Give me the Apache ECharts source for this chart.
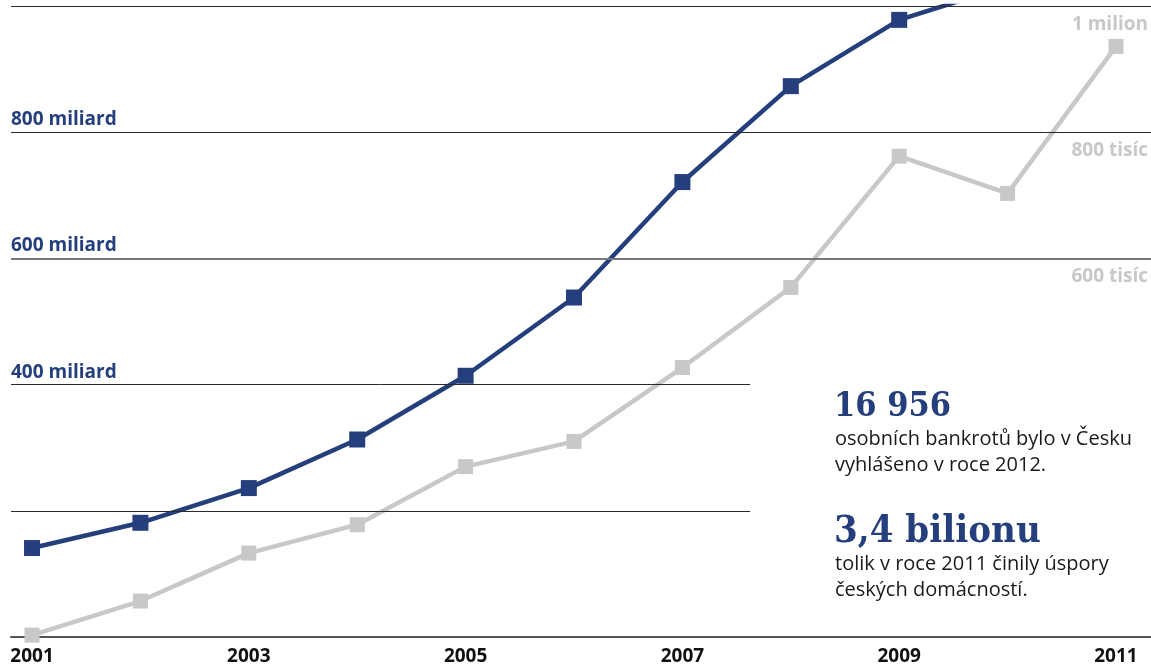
<!DOCTYPE html>
<html>
<head>
<meta charset="utf-8">
<script src="https://cdn.jsdelivr.net/npm/echarts@6/dist/echarts.min.js"></script>
<style>
  html, body { margin: 0; padding: 0; background: #fff; }
  #main { width: 1151px; height: 666px; }
</style>
</head>
<body>
<div id="main"></div>
<script>
// roky
var years = [2001, 2002, 2003, 2004, 2005, 2006, 2007, 2008, 2009, 2010, 2011];
// modra linka, miliardy Kc (2010-2011 jsou nad horni hranou a orizne se)
var blueValues = [141, 181, 236, 313, 414, 538, 721, 873, 978, 1032, 1090];
// seda linka, tisice
var grayValues = [3, 57, 133, 178, 270, 310, 427, 554, 762, 703, 936];
// popisky os
var xLabels = [2001, 2003, 2005, 2007, 2009, 2011];
var leftLabels = { 400: '400 miliard', 600: '600 miliard', 800: '800 miliard' };
var rightLabels = { 600: '600 tisíc', 800: '800 tisíc', 1000: '1 milion' };

var blue = '#243f7c';
var gray = '#c8c8c8';
var font = '"Open Sans", "Noto Sans", sans-serif';
var slab = '"DejaVu Serif Condensed", "DejaVu Serif", serif';

function pairs(vals) {
    let out = [];
    for (let i = 0; i < years.length; i++) {
        out.push([years[i], vals[i]]);
    }
    return out;
}

var chart = echarts.init(document.getElementById('main'));

var option = {
    animation: false,
    grid: { left: 11, right: 0, top: 6, bottom: 29 },
    xAxis: {
        type: 'value',
        min: 2000.806,
        max: 2011.323,
        splitLine: { show: false },
        axisTick: { show: false },
        axisLine: { show: true, lineStyle: { color: '#555', width: 2 } },
        axisLabel: {
            customValues: xLabels,
            margin: 10,
            color: '#111',
            fontWeight: 'bold',
            fontSize: 19,
            fontFamily: font,
            formatter: function (v) { return String(v); }
        }
    },
    yAxis: [
        {
            type: 'value',
            min: 0, max: 1000, interval: 200,
            splitLine: { show: false },
            axisLine: { show: false },
            axisTick: { show: false },
            axisLabel: {
                inside: true,
                margin: 0,
                align: 'left',
                verticalAlign: 'bottom',
                padding: [0, 0, 3, 0],
                color: blue,
                fontWeight: 'bold',
                fontSize: 19,
                fontFamily: font,
                formatter: function (v) { return leftLabels[v] || ''; }
            }
        },
        {
            type: 'value',
            position: 'right',
            min: 0, max: 1000, interval: 200,
            splitLine: { show: false },
            axisLine: { show: false },
            axisTick: { show: false },
            axisLabel: {
                inside: true,
                margin: 3,
                align: 'right',
                verticalAlign: 'top',
                padding: [9, 0, 0, 0],
                color: gray,
                fontWeight: 'bold',
                fontSize: 19,
                fontFamily: font,
                formatter: function (v) { return rightLabels[v] || ''; }
            }
        }
    ],
    graphic: [
        {
            type: 'text', left: 834, top: 390,
            style: { text: '16 956', fill: blue, font: 'bold 34px ' + slab }
        },
        {
            type: 'text', left: 835, top: 426,
            style: {
                text: 'osobních bankrotů bylo v Česku\nvyhlášeno v roce 2012.',
                fill: '#1a1a1a', fontSize: 20, lineHeight: 26, fontFamily: font
            }
        },
        {
            type: 'text', left: 834, top: 513,
            style: { text: '3,4 bilionu', fill: blue, font: 'bold 38px ' + slab }
        },
        {
            type: 'text', left: 835, top: 551,
            style: {
                text: 'tolik v roce 2011 činily úspory\nčeských domácností.',
                fill: '#1a1a1a', fontSize: 20, lineHeight: 26, fontFamily: font
            }
        }
    ],
    series: [
        {
            // jen vodorovne cary
            type: 'line',
            data: [],
            z: 1,
            silent: true,
            markLine: {
                silent: true,
                symbol: 'none',
                label: { show: false },
                lineStyle: { color: '#2a2a2a', width: 1, type: 'solid' },
                data: [
                    { yAxis: 1000 },
                    { yAxis: 800 },
                    { yAxis: 600, lineStyle: { color: '#777', width: 2 } },
                    [{ coord: [2000.806, 400] }, { coord: [2007.624, 400] }],
                    [{ coord: [2000.806, 200] }, { coord: [2007.624, 200] }]
                ]
            }
        },
        {
            name: 'tisíc',
            type: 'line',
            yAxisIndex: 1,
            z: 3,
            data: pairs(grayValues),
            symbol: 'rect',
            symbolSize: 15,
            showAllSymbol: true,
            lineStyle: { color: gray, width: 4.5 },
            itemStyle: { color: gray }
        },
        {
            name: 'miliard',
            type: 'line',
            yAxisIndex: 0,
            z: 4,
            data: pairs(blueValues),
            symbol: 'rect',
            symbolSize: 16,
            showAllSymbol: true,
            clip: true,
            lineStyle: { color: blue, width: 4.5 },
            itemStyle: { color: blue }
        }
    ]
};

chart.setOption(option);
</script>
</body>
</html>
